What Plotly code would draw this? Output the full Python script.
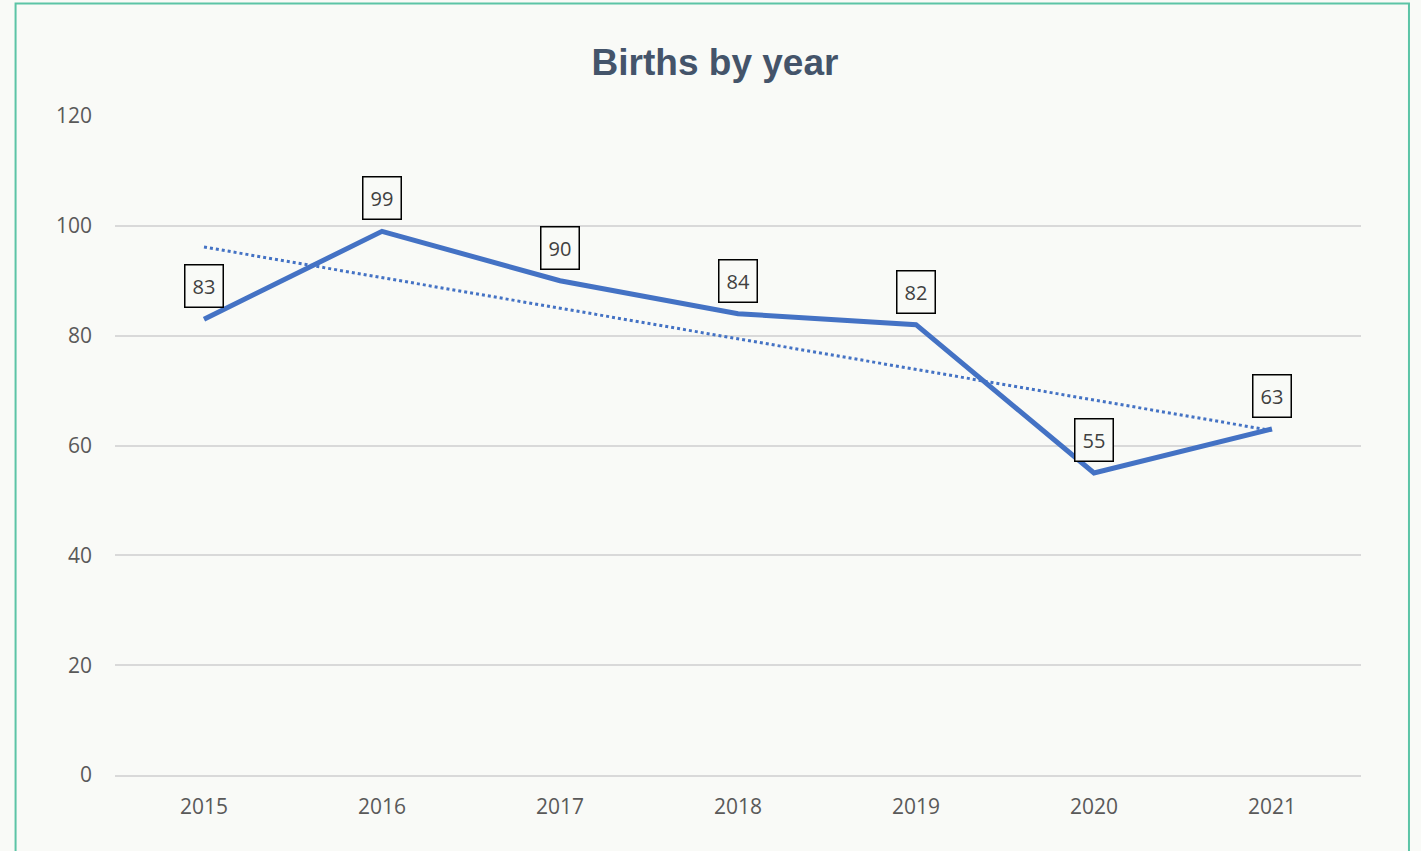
import plotly.graph_objects as go
import numpy as np

years = ["2015", "2016", "2017", "2018", "2019", "2020", "2021"]
births = [83, 99, 90, 84, 82, 55, 63]
y_ticks = [0, 20, 40, 60, 80, 100, 120]

BLUE = "#4472C4"
BG = "#f9faf7"
FONT = "Open Sans"

# linear trendline (least squares, like Excel)
xi = np.arange(len(births))
slope, intercept = np.polyfit(xi, births, 1)
trend = (slope * xi + intercept).tolist()

fig = go.Figure()
fig.add_trace(go.Scatter(x=years, y=trend, mode="lines",
                         line=dict(color=BLUE, width=3, dash="dot"),
                         hoverinfo="skip", showlegend=False))
fig.add_trace(go.Scatter(x=years, y=births, mode="lines",
                         line=dict(color=BLUE, width=5),
                         showlegend=False))

annotations = []
for i, v in enumerate(births):
    annotations.append(dict(
        xref="x", yref="y", x=i, y=v, text=str(v), showarrow=False,
        yshift=33, font=dict(family=FONT, size=20, color="#404040"),
        bordercolor="#000000", borderwidth=1.5, borderpad=7,
        bgcolor=BG, xanchor="center", yanchor="middle"))

# outer green border
shapes = [dict(type="rect", xref="paper", yref="paper",
               x0=-0.0798, x1=1.0385, y0=-0.13, y1=1.1707,
               line=dict(color="#5cc4a6", width=2), layer="below")]

fig.update_layout(
    width=1421, height=851,
    margin=dict(l=115, r=60, t=116, b=76),
    paper_bgcolor=BG, plot_bgcolor=BG,
    annotations=annotations,
    shapes=shapes,
    title=dict(text="<b>Births by year</b>", x=715 / 1421, xanchor="center",
               y=1 - 62 / 851, yanchor="middle",
               font=dict(family="Liberation Sans", size=37, color="#44546A")),
    xaxis=dict(type="category", range=[-0.5, 6.5], showgrid=False,
               showline=True, linecolor="#d9d9d9", linewidth=1.5,
               ticks="", tickfont=dict(family=FONT, size=21, color="#595959"),
               ticklabelstandoff=12, zeroline=False),
    yaxis=dict(range=[0, 120], tickvals=y_ticks, showgrid=True,
               gridcolor="#d9d9d9", gridwidth=1.5, zeroline=False,
               showline=False, ticks="",
               tickfont=dict(family=FONT, size=21, color="#595959"),
               ticklabelstandoff=22),
)

fig.write_html("out.html", config={"displayModeBar": False},
               post_script="document.body.style.margin='0';document.body.style.background='%s';" % BG)
